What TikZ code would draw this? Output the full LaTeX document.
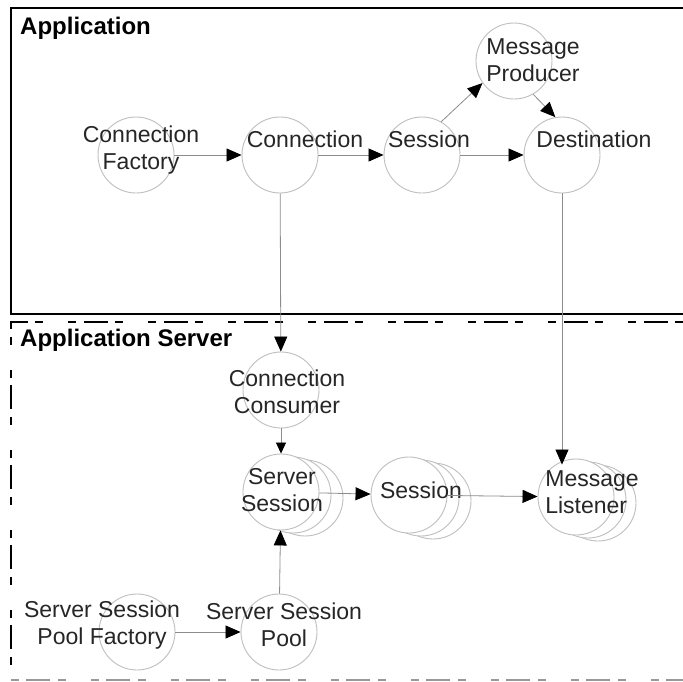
\documentclass[tikz,border=0pt]{standalone}
\usepackage{fontspec}
\setmainfont{Liberation Sans}
\usetikzlibrary{arrows.meta}

\begin{document}
\begin{tikzpicture}[x=1pt,y=-1pt]
      \tikzstyle{obj}=[circle, draw=black!25, fill=white, line width=0.9pt, minimum size=76pt, inner sep=0pt]
      \tikzstyle{lbl}=[align=center, inner sep=0pt, text=black!85, font=\fontsize{23}{27}\selectfont]
      \tikzstyle{area}=[anchor=west, inner sep=0pt, font=\fontsize{24}{28}\selectfont\bfseries]
      \tikzstyle{conn}=[draw=black!45, line width=0.8pt, -{Triangle[length=15pt,width=13pt,color=black]}]
      \tikzstyle{smallconn}=[draw=black!45, line width=0.8pt, -{Triangle[length=11pt,width=10pt,color=black]}]
      \useasboundingbox (0,0) rectangle (683,681);
      \draw [black, line width=2pt] (683,8) -- (11,8) -- (11,314) -- (683,314);
      \draw [black, line width=2pt, dash pattern=on 8pt off 7pt on 24pt off 8pt on 8pt off 25pt] (683,322) -- (11,322) -- (11,680);
      \draw [black!40, line width=1.5pt, dash pattern=on 8pt off 7pt on 24pt off 8pt on 8pt off 25pt] (11,680) -- (683,680);
      \node [area] (app) at (20,28) {Application};
      \node [area] (appsrv) at (20,340) {Application Server};
      \node [obj] (cf) at (136,155) {};
      \node [obj] (con) at (280,155) {};
      \node [obj] (sess) at (422,155) {};
      \node [obj] (dst) at (562,155) {};
      \node [obj] (mp) at (514,61) {};
      \node [obj] (cc) at (281,390) {};
      \node [obj] (ss3) at (305,498) {};
      \node [obj] (ss2) at (293,495) {};
      \node [obj] (ss) at (281,492) {};
      \node [obj] (ses3) at (433,501) {};
      \node [obj] (ses2) at (421,498) {};
      \node [obj] (ses) at (409,495) {};
      \node [obj] (ml3) at (598,503) {};
      \node [obj] (ml2) at (588,500) {};
      \node [obj] (ml) at (576,497) {};
      \node [obj] (sspf) at (137,632) {};
      \node [obj] (ssp) at (279,632) {};
      \node [lbl] (cft) at (141,150) {Connection\\Factory};
      \node [lbl] (cont) at (305,139) {Connection};
      \node [lbl] (sesst) at (429,139) {Session};
      \node [lbl] (dstt) at (594,139) {Destination};
      \node [lbl] (mpt) at (533,60) {Message\\Producer};
      \node [lbl] (cct) at (287,392) {Connection\\Consumer};
      \node [lbl] (sst) at (282,490) {Server\\Session};
      \node [lbl] (sest) at (421,490) {Session};
      \node [lbl, align=left] (mlt) at (592,492) {Message\\Listener};
      \node [lbl] (sspft) at (102,625) {Server Session\\Pool Factory};
      \node [lbl] (sspt) at (284,625) {Server Session\\Pool};
      \draw [conn] (cf) -- (con);
      \draw [conn] (con) -- (sess);
      \draw [conn] (sess) -- (dst);
      \draw [conn] (sess.60) -- (mp.215);
      \draw [conn] (mp.-60) -- (dst.100);
      \draw [conn] (con) -- (cc);
      \draw [conn] (dst) -- ([yshift=-6pt]dst |- ml.north);
      \draw [smallconn] (cc) -- (ss);
      \draw [conn] (ss) -- (ses);
      \draw [conn] (ses) -- (ml);
      \draw [conn] (sspf) -- (ssp);
      \draw [conn] (ssp) -- (ss);
\end{tikzpicture}
\end{document}
